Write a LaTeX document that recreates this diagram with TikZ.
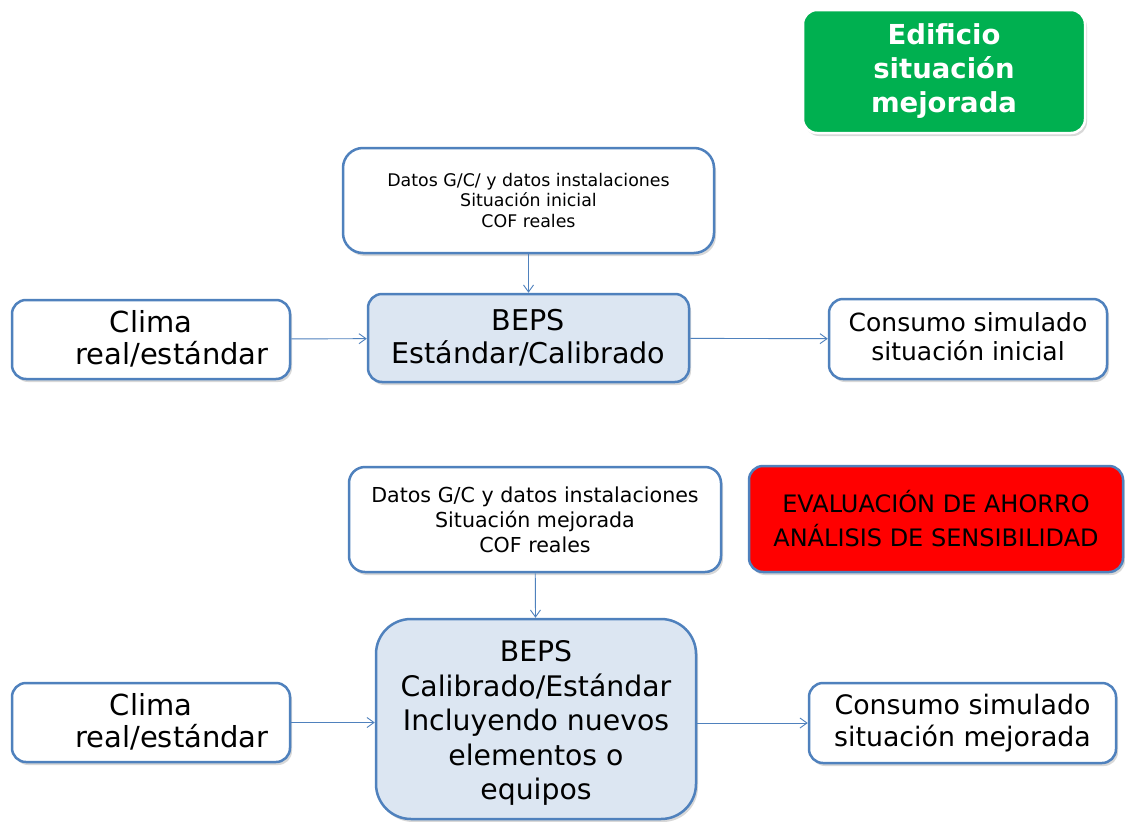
\documentclass[tikz,border=0pt]{standalone}
\usepackage{fontspec}
\setmainfont{DejaVu Sans}
\usetikzlibrary{shadows,arrows.meta}
\definecolor{bord}{HTML}{4F81BD}
\definecolor{lblue}{HTML}{DCE6F2}
\definecolor{okgreen}{HTML}{00B050}
\tikzset{
  box/.style={draw=bord, line width=2.5pt, fill=white, rounded corners=14pt, align=center, inner sep=0pt,
    drop shadow={opacity=0.3, shadow xshift=2pt, shadow yshift=-3pt}},
  beps/.style={box, fill=lblue},
  conn/.style={draw=bord, line width=0.9pt, -{Straight Barb[length=7pt,width=10pt]}},
}
\newcommand{\lowerby}[2]{\raisebox{-#1}[\height][\depth]{\begin{tabular}{@{}c@{}}#2\end{tabular}}}
\begin{document}
\begin{tikzpicture}[x=1pt,y=-1pt]
\useasboundingbox[fill=white] (0,0) rectangle (1125,822);
% green title
\node[box, draw=white, fill=okgreen, text=white, minimum width=282pt, minimum height=123pt,
  font=\fontsize{27.5}{34}\bfseries\selectfont] (title) at (944,71.5) {Edificio\\situación\\mejorada};
% top row
\node[box, rounded corners=20pt, minimum width=371pt, minimum height=105pt,
  font=\fontsize{17.4}{20.5}\selectfont] (data1) at (528.5,200.5)
  {Datos G/C/ y datos instalaciones\\Situación inicial\\COF reales};
\node[beps, minimum width=321pt, minimum height=88pt, font=\fontsize{28.6}{33}\selectfont] (beps1) at (528.5,338)
  {BEPS\\Estándar/Calibrado};
\node[box, minimum width=278pt, minimum height=79pt, font=\fontsize{29}{28}\selectfont] (clima1) at (151,339.5)
  {\lowerby{2pt}{Clima\\\hspace*{42pt}real/estándar}};
\node[box, minimum width=278pt, minimum height=80pt, font=\fontsize{25}{29}\selectfont] (cons1) at (968,339)
  {\lowerby{1pt}{Consumo simulado\\situación inicial}};
\draw[conn] (clima1) -- (beps1);
\draw[conn] (data1) -- (beps1);
\draw[conn] (beps1) -- (cons1);
% bottom row
\node[box, rounded corners=16pt, minimum width=372pt, minimum height=105pt,
  font=\fontsize{20.6}{25}\selectfont] (data2) at (535,519.5)
  {Datos G/C y datos instalaciones\\Situación mejorada\\COF reales};
\node[box, fill=red, minimum width=374pt, minimum height=106pt,
  font=\fontsize{24}{34}\selectfont] (eval) at (936,519)
  {EVALUACIÓN DE AHORRO\\ANÁLISIS DE SENSIBILIDAD};
\node[beps, rounded corners=35pt, minimum width=320pt, minimum height=200pt, font=\fontsize{28.3}{34.5}\selectfont] (beps2) at (536,719)
  {\lowerby{5pt}{BEPS\\Calibrado/Estándar\\Incluyendo nuevos\\elementos o\\equipos}};
\node[box, minimum width=278pt, minimum height=79pt, font=\fontsize{29}{28}\selectfont] (clima2) at (151,722.5)
  {\lowerby{2pt}{Clima\\\hspace*{42pt}real/estándar}};
\node[box, minimum width=307pt, minimum height=80pt, font=\fontsize{26.8}{32}\selectfont] (cons2) at (962.5,723)
  {Consumo simulado\\situación mejorada};
\draw[conn] (clima2.east) -- (clima2.east -| beps2.west);
\draw[conn] (data2) -- (beps2);
\draw[conn] (beps2.east |- cons2.west) -- (cons2.west);
\end{tikzpicture}
\end{document}
